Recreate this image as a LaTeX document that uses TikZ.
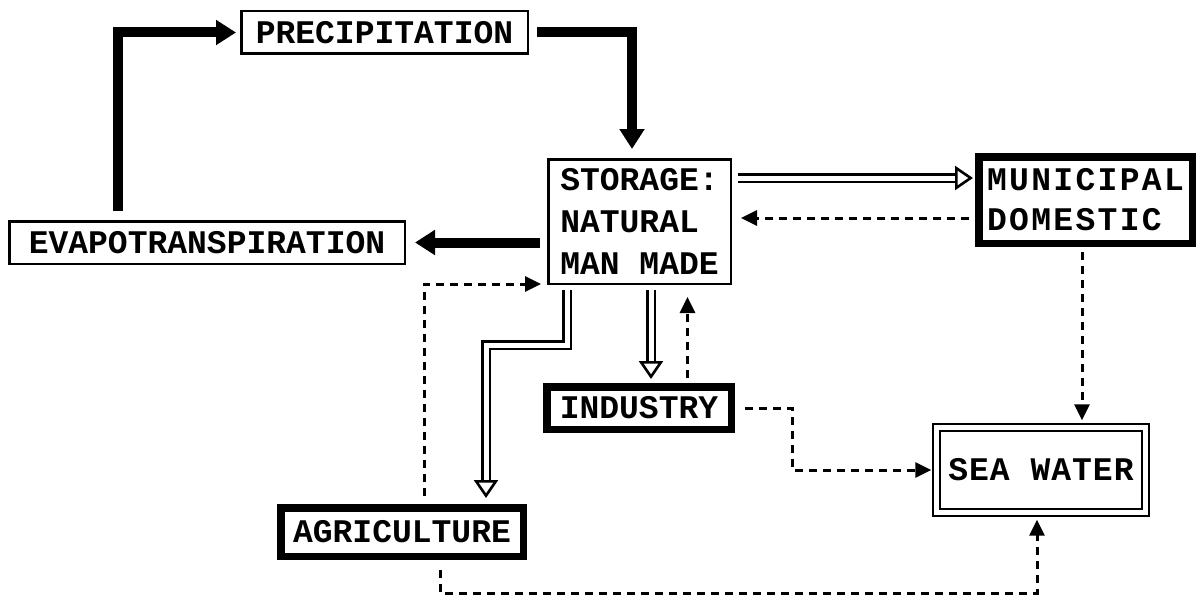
\documentclass[tikz,border=0pt]{standalone}
\usepackage{fontspec}
\newfontfamily\boxfont{Liberation Mono}
\usetikzlibrary{arrows.meta,calc}
\begin{document}
\begin{tikzpicture}[x=1pt,y=-1pt,
  lbl/.style={font={\boxfont\bfseries\fontsize{33}{42}\selectfont}, inner sep=0pt},
  thinbox/.style={lbl, draw, line width=2.5pt},
  heavybox/.style={lbl, draw, line width=7.5pt},
  seabox/.style={lbl, draw, double, line width=2.4pt, double distance=4.5pt},
  heavy/.style={line width=10pt, -{Triangle[length=20pt,width=24pt]}},
  dbl/.style={double, line width=2.8pt, double distance=5pt,
    -{Triangle[length=18pt,width=24pt,fill=white,line width=2.6pt]}},
  dsh/.style={line width=3pt, dash pattern=on 8pt off 6pt,
    -{Triangle[length=16pt,width=15pt]}},
]
\fill[white] (0,0) rectangle (1201,602);
\useasboundingbox (0,0) rectangle (1201,602);

% boxes
\node[thinbox, minimum width=286.5pt, minimum height=42.5pt] (prec) at (384.5,32.5) {PRECIPITATION};
\node[thinbox, minimum width=395.5pt, minimum height=42.5pt] (evap) at (207,242.5) {EVAPOTRANSPIRATION};
\node[thinbox, minimum width=182.5pt, minimum height=124.5pt, align=left] (stor) at (639.5,221.5) {STORAGE:\\NATURAL\\MAN MADE};
\node[heavybox, minimum width=213.5pt, minimum height=86.5pt, align=left,
      font={\boxfont\bfseries\fontsize{33}{40}\selectfont\addfontfeature{LetterSpace=7}}]
      (muni) at (1085.5,200) {MUNICIPAL\\DOMESTIC};
\node[heavybox, minimum width=184.5pt, minimum height=42.5pt] (indu) at (639,408) {INDUSTRY};
\node[heavybox, minimum width=242.5pt, minimum height=48.5pt] (agri) at (402,532) {AGRICULTURE};
\node[seabox, minimum width=209pt, minimum height=85pt,
      font={\boxfont\bfseries\fontsize{33}{42}\selectfont\addfontfeature{LetterSpace=3}}]
      (sea) at (1041,470) {SEA WATER};

% natural cycle
\coordinate (up) at (118,0);
\draw[heavy, shorten <=9pt, shorten >=4pt] (evap.north -| up) |- (prec.west);
\draw[heavy, shorten <=8pt, shorten >=9pt] (prec.east) -| ([xshift=-7.5pt]stor.north);
\draw[heavy, shorten <=7pt, shorten >=9pt] (stor.west |- evap.east) -- (evap.east);

% municipal / domestic
\coordinate (m1) at ([yshift=22pt]muni.west);
\draw[dbl, shorten <=6pt, shorten >=2pt] (stor.east |- m1) -- (m1);
\coordinate (m2) at ([yshift=-18pt]muni.west);
\draw[dsh, shorten <=6pt, shorten >=9pt] (m2) -- (stor.east |- m2);
\coordinate (m3) at ([xshift=-3.5pt]muni.south);
\draw[dsh, shorten <=5pt, shorten >=6pt] (m3) -- (m3 |- sea.north);

% industry
\coordinate (s1) at ([xshift=11.5pt]stor.south);
\draw[dbl, shorten <=5pt, shorten >=4pt] (s1) -- (s1 |- indu.north);
\coordinate (s2) at ([xshift=48.5pt]indu.north);
\draw[dsh, shorten <=5pt, shorten >=12pt] (s2) -- (s2 |- stor.south);
\coordinate (c3) at (792,0);
\draw[dsh, shorten <=10pt, shorten >=4pt] (indu.east) -- (c3 |- indu.east) |- (sea.west);

% agriculture
\coordinate (s3) at ([xshift=-72.5pt]stor.south);
\coordinate (c4) at (486,345);
\draw[dbl, shorten <=5pt, shorten >=6pt] (s3) |- (c4) -- (c4 |- agri.north);
\coordinate (a1) at ([xshift=22pt]agri.north);
\draw[dsh, shorten <=8pt, shorten >=6pt] (a1) |- ([yshift=1pt]stor.south west);
\coordinate (a2) at ([xshift=38pt]agri.south);
\coordinate (c6) at (0,593);
\coordinate (s4) at ([xshift=-4pt]sea.south);
\draw[dsh, shorten <=10pt, shorten >=6pt] (a2) -- (a2 |- c6) -| (s4);
\end{tikzpicture}
\end{document}
